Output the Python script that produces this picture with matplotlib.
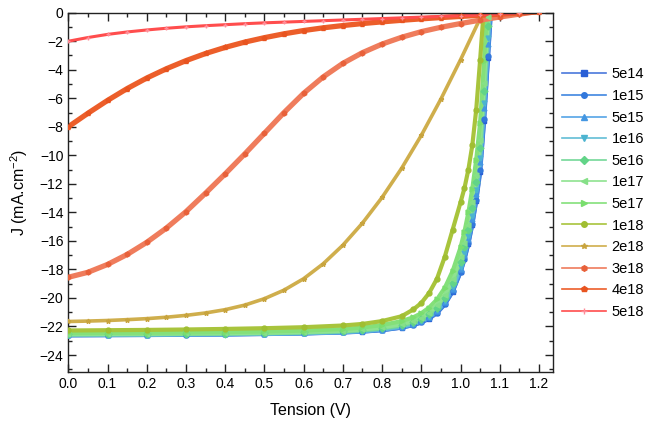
import matplotlib
matplotlib.use("Agg")
import matplotlib.pyplot as plt
from matplotlib.lines import Line2D
from matplotlib.ticker import MultipleLocator

plt.rcParams['font.family'] = ['Liberation Sans', 'DejaVu Sans']
plt.rcParams['mathtext.default'] = 'regular'

# Voltage grids (V)
V_a = [0.00, 0.05, 0.10, 0.15, 0.20, 0.25, 0.30, 0.35, 0.40, 0.45, 0.50, 0.55,
       0.60, 0.65, 0.70, 0.75, 0.80, 0.85, 0.90, 0.95, 1.00, 1.05, 1.10, 1.15, 1.20]
V_t = [0.00, 0.05, 0.10, 0.15, 0.20, 0.25, 0.30, 0.35, 0.40, 0.45, 0.50, 0.55,
       0.60, 0.65, 0.70, 0.75, 0.80, 0.85, 0.90, 0.95, 1.00, 1.05, 1.10]
V_b = [0.00, 0.10, 0.20, 0.30, 0.40, 0.50, 0.60, 0.70, 0.75, 0.80, 0.85, 0.88,
       0.90, 0.92, 0.94, 0.96, 0.98, 1.00, 1.01, 1.02, 1.03, 1.04, 1.05, 1.06,
       1.07, 1.08, 1.09]

# Current density (mA/cm2)
J_5e14 = [-22.62, -22.61, -22.60, -22.58, -22.56, -22.53, -22.49, -22.42, -22.36, -22.26,
          -22.08, -21.90, -21.72, -21.45, -21.05, -20.45, -19.55, -18.20, -17.30, -16.20,
          -14.85, -13.20, -11.20, -7.60, -3.20, 1.20, 5.00]
J_1e15 = [-22.61, -22.60, -22.59, -22.57, -22.55, -22.52, -22.48, -22.41, -22.35, -22.25,
          -22.07, -21.89, -21.70, -21.43, -21.03, -20.42, -19.52, -18.15, -17.25, -16.15,
          -14.80, -13.10, -11.05, -7.45, -3.05, 1.30, 5.10]
J_5e15 = [-22.60, -22.59, -22.58, -22.56, -22.54, -22.51, -22.47, -22.40, -22.33, -22.22,
          -22.03, -21.84, -21.64, -21.35, -20.93, -20.30, -19.35, -17.95, -17.00, -15.85,
          -14.45, -12.70, -10.50, -6.70, -2.20, 2.20, 6.00]
J_1e16 = [-22.59, -22.58, -22.57, -22.55, -22.53, -22.50, -22.46, -22.38, -22.31, -22.20,
          -22.00, -21.80, -21.60, -21.30, -20.87, -20.22, -19.25, -17.82, -16.85, -15.68,
          -14.25, -12.45, -10.20, -6.35, -1.80, 2.60, 6.40]
J_5e16 = [-22.56, -22.55, -22.54, -22.52, -22.50, -22.47, -22.42, -22.34, -22.26, -22.13,
          -21.92, -21.70, -21.48, -21.15, -20.68, -19.98, -18.95, -17.45, -16.45, -15.22,
          -13.72, -11.85, -9.50, -5.50, -0.90, 3.50, 7.00]
J_1e17 = [-22.53, -22.52, -22.51, -22.49, -22.47, -22.44, -22.39, -22.30, -22.21, -22.07,
          -21.84, -21.61, -21.37, -21.02, -20.52, -19.78, -18.70, -17.15, -16.12, -14.85,
          -13.30, -11.38, -8.95, -4.90, -0.30, 4.00, 7.50]
J_5e17 = [-22.46, -22.45, -22.44, -22.42, -22.39, -22.35, -22.29, -22.18, -22.07, -21.90,
          -21.62, -21.35, -21.07, -20.67, -20.10, -19.28, -18.10, -16.45, -15.35, -14.00,
          -12.35, -10.30, -7.70, -3.40, 1.30, 5.50, 9.00]
J_1e18 = [-22.28, -22.26, -22.24, -22.21, -22.17, -22.12, -22.05, -21.93, -21.82, -21.62,
          -21.28, -20.80, -20.35, -19.65, -18.65, -17.10, -15.20, -13.30, -12.30, -11.00,
          -9.30, -6.80, -3.30, 0.50, 4.50, 8.50, 12.00]
J_2e18 = [-21.65, -21.62, -21.58, -21.52, -21.45, -21.35, -21.22, -21.05, -20.82, -20.50,
          -20.05, -19.45, -18.65, -17.60, -16.30, -14.75, -12.95, -10.90, -8.60, -6.05,
          -3.30, -0.40, 2.50]
J_3e18 = [-18.55, -18.20, -17.65, -16.95, -16.10, -15.10, -13.95, -12.65, -11.30, -9.90,
          -8.45, -7.00, -5.65, -4.50, -3.55, -2.80, -2.20, -1.72, -1.33, -1.02,
          -0.76, -0.52, -0.30, -0.10, 0.10]
J_4e18 = [-8.00, -7.05, -6.15, -5.32, -4.58, -3.93, -3.36, -2.86, -2.43, -2.06,
          -1.75, -1.48, -1.25, -1.06, -0.90, -0.76, -0.64, -0.53, -0.43, -0.34,
          -0.26, -0.18, -0.10, -0.02, 0.06]
J_5e18 = [-2.00, -1.74, -1.52, -1.35, -1.21, -1.09, -0.99, -0.91, -0.84, -0.77,
          -0.71, -0.66, -0.61, -0.56, -0.51, -0.46, -0.41, -0.36, -0.31, -0.26,
          -0.21, -0.15, -0.09, -0.03, 0.03]

labels = ['5e14', '1e15', '5e15', '1e16', '5e16', '1e17', '5e17', '1e18',
          '2e18', '3e18', '4e18', '5e18']
series = [(V_b, J_5e14), (V_b, J_1e15), (V_b, J_5e15), (V_b, J_1e16), (V_b, J_5e16),
          (V_b, J_1e17), (V_b, J_5e17), (V_b, J_1e18), (V_t, J_2e18), (V_a, J_3e18),
          (V_a, J_4e18), (V_a, J_5e18)]
line_colors = ['#4a78dc', '#3f86e0', '#55a4e6', '#62bdd6', '#74d898', '#8fe390',
               '#84e07a', '#a8c43c', '#cfae4c', '#ef7c5c', '#ec5e2a', '#ff4d4d']
mark_colors = ['#2a5fd6', '#3278dc', '#4497e2', '#4cb4d0', '#62d488', '#86e088',
               '#7ade6e', '#a0be32', '#c8a43e', '#e8613a', '#e85420', '#ff8c98']
markers = ['s', 'o', '^', 'v', 'D', '<', '>', 'o', '*', 'h', 'p', '+']
band_w = [3.0, 3.0, 3.0, 3.0, 3.0, 3.0, 3.0, 3.0, 2.6, 3.8, 3.8, 2.2]

fig = plt.figure(figsize=(6.45, 4.25), dpi=100)
ax = fig.add_axes([0.1059, 0.1254, 0.751, 0.8447])

for (v, j), lc, mc, m, w in zip(series, line_colors, mark_colors, markers, band_w):
    ax.plot(v, j, color=lc, lw=w, solid_capstyle='round', zorder=2)
    ax.plot(v, j, color=lc, lw=0, marker=m, ms=3.5, mfc=mc, mec=mc, mew=1.0, zorder=3)

ax.set_xlim(0, 1.235)
ax.set_ylim(-25.17, 0)
ax.xaxis.set_major_locator(MultipleLocator(0.1))
ax.xaxis.set_minor_locator(MultipleLocator(0.05))
ax.yaxis.set_major_locator(MultipleLocator(2))
ax.yaxis.set_minor_locator(MultipleLocator(1))
ax.xaxis.set_major_formatter(matplotlib.ticker.FormatStrFormatter('%.1f'))
ax.tick_params(which='both', direction='in', top=True, right=True, labelsize=10,
               color='#222222', width=1.0)
ax.tick_params(which='major', length=5.5)
ax.tick_params(which='minor', length=3)
for s in ax.spines.values():
    s.set_linewidth(1.0)
    s.set_color('#222222')

ax.set_xlabel('Tension (V)', fontsize=11.5, labelpad=9)
ax.set_ylabel('J (mA.cm$^{-2}$)', fontsize=11.5, labelpad=7)

handles = [Line2D([0], [0], color=lc, lw=1.2, marker=m, ms=4, mfc=mc, mec=mc)
           for lc, mc, m in zip(line_colors, mark_colors, markers)]
fig.legend(handles, labels, loc='upper left', bbox_to_anchor=(0.862, 0.855),
           frameon=False, fontsize=10.5, handlelength=3.0, handletextpad=0.4,
           labelspacing=0.52, borderaxespad=0)

fig.savefig('out.png', dpi=100)
